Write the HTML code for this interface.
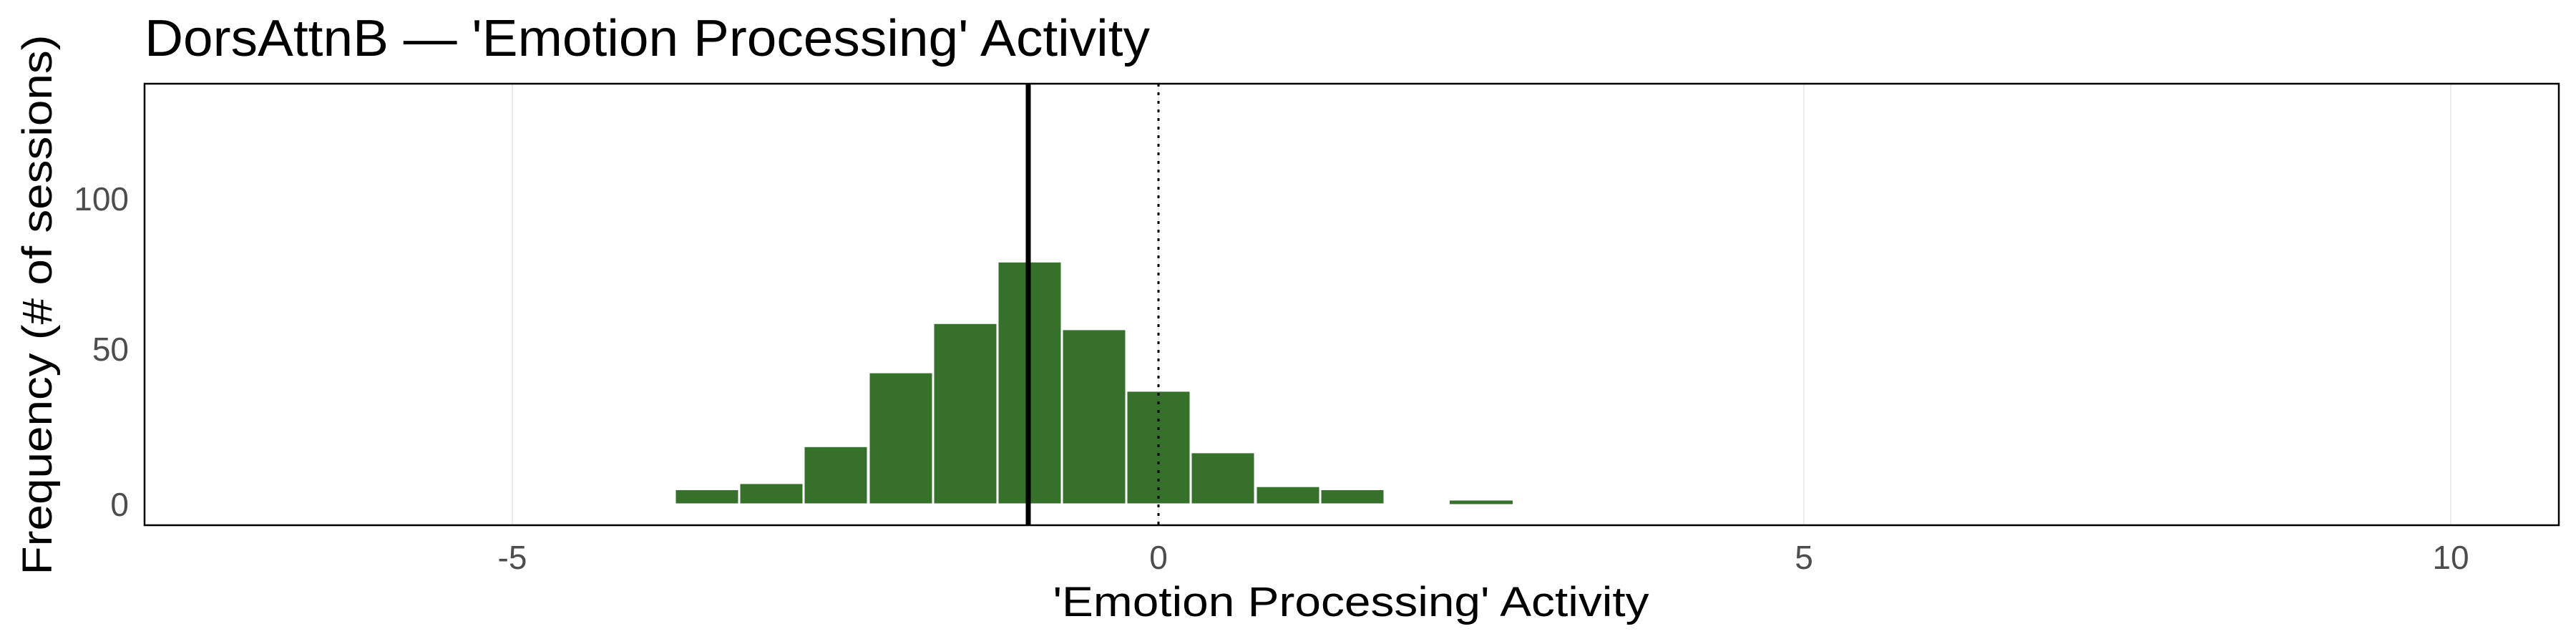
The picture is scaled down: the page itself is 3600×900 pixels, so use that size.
<!DOCTYPE html>
<html><head><meta charset="utf-8"><style>html,body{margin:0;padding:0;background:#fff}svg{display:block}</style></head>
<body>
<svg width="3600" height="900" xmlns="http://www.w3.org/2000/svg" font-family="Liberation Sans, Arial, sans-serif">
<rect width="3600" height="900" fill="#fff"/>
<g stroke="#ebebeb" stroke-width="2">
<line x1="716" y1="117" x2="716" y2="734"/>
<line x1="1619" y1="117" x2="1619" y2="734"/>
<line x1="2521" y1="117" x2="2521" y2="734"/>
<line x1="3425" y1="117" x2="3425" y2="734"/>
</g>
<g fill="#35712b" stroke="#fff" stroke-width="3">
<rect x="943" y="683.5" width="90" height="21.5"/>
<rect x="1033" y="674.9" width="90" height="30.1"/>
<rect x="1123" y="623.3" width="90" height="81.7"/>
<rect x="1214" y="520.1" width="90" height="184.9"/>
<rect x="1304" y="451.3" width="90" height="253.7"/>
<rect x="1394" y="365.3" width="90" height="339.7"/>
<rect x="1484" y="459.9" width="90" height="245.1"/>
<rect x="1574" y="545.9" width="90" height="159.1"/>
<rect x="1664" y="631.9" width="90" height="73.1"/>
<rect x="1755" y="679.2" width="90" height="25.8"/>
<rect x="1845" y="683.5" width="90" height="21.5"/>
</g>
<rect x="2026" y="699.5" width="88" height="5" fill="#35712b"/>
<line x1="1437" y1="117" x2="1437" y2="734" stroke="#000" stroke-width="7"/>
<line x1="1619" y1="117" x2="1619" y2="734" stroke="#000" stroke-width="3" stroke-dasharray="4,8"/>
<rect x="202" y="117" width="3374" height="617" fill="none" stroke="#000" stroke-width="2.5"/>
<g fill="#4d4d4d" font-size="46" text-anchor="end">
<text x="180" y="294">100</text>
<text x="180" y="504">50</text>
<text x="180" y="721">0</text>
</g>
<g fill="#4d4d4d" font-size="46" text-anchor="middle">
<text x="716" y="795">-5</text>
<text x="1619" y="795">0</text>
<text x="2521" y="795">5</text>
<text x="3425" y="795">10</text>
</g>
<text x="202" y="78" font-size="72" fill="#000" textLength="1405" lengthAdjust="spacingAndGlyphs">DorsAttnB — 'Emotion Processing' Activity</text>
<text x="1888" y="861" font-size="58" fill="#000" text-anchor="middle" textLength="833" lengthAdjust="spacingAndGlyphs">'Emotion Processing' Activity</text>
<text transform="translate(72,426) rotate(-90)" font-size="58" fill="#000" text-anchor="middle" textLength="755" lengthAdjust="spacingAndGlyphs">Frequency (# of sessions)</text>
</svg>
</body></html>
